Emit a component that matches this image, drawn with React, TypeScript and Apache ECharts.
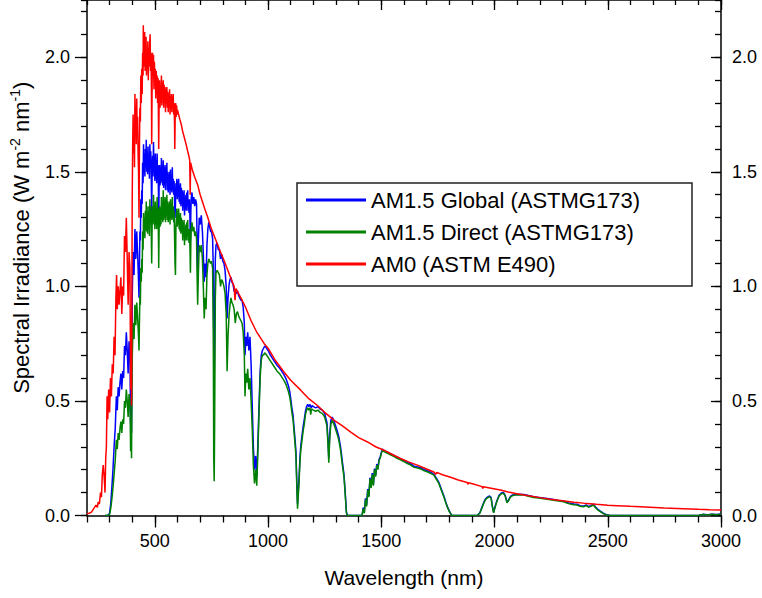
import React, { useEffect, useRef } from "react";
import * as echarts from "echarts";

// ---------- data ----------
const seriesNames = ["AM1.5 Global (ASTMG173)", "AM1.5 Direct (ASTMG173)", "AM0 (ASTM E490)"];
const seriesColors = ["#0000ff", "#008000", "#ff0000"];

const xMajorTicks = [500, 1000, 1500, 2000, 2500, 3000];
const yMajorTicks = [0, 0.5, 1, 1.5, 2];

// AM0 (ASTM E490): [wavelength nm, W m^-2 nm^-1]
const amoData: number[][] = [
  [200,0.008],[210,0.01],[220,0.015],[230,0.03],[240,0.045],[246,0.035],[250,0.06],[255,0.05],[260,0.10],[264,0.08],
  [268,0.18],[272,0.22],[276,0.17],[280,0.10],[283,0.25],[286,0.30],[289,0.52],[292,0.42],[296,0.55],[300,0.45],
  [304,0.60],[308,0.52],[312,0.66],[316,0.62],[320,0.78],[324,0.70],[328,0.95],[331,1.05],[334,0.90],[338,1.00],
  [342,0.92],[346,0.98],[350,1.04],[354,0.88],[358,1.00],[362,0.96],[366,1.22],[370,1.15],[374,1.30],[378,1.12],
  [382,0.92],[386,1.15],[390,1.08],[393,0.55],[395,0.85],[397,0.48],
  [400,1.38],[402,1.62],[404,1.75],[406,1.58],[408,1.66],[410,1.52],[412,1.84],[414,1.70],[416,1.76],[418,1.62],
  [420,1.82],[422,1.66],[424,1.74],[426,1.58],[428,1.50],[430,1.30],[432,1.62],[434,1.78],[436,1.72],[438,1.92],
  [440,1.80],[442,1.95],[444,1.84],[446,2.02],[448,1.92],[449,2.14],[451,1.96],[453,2.08],[455,2.11],[457,1.94],
  [459,2.06],[461,2.09],[463,1.92],[465,2.02],[467,1.95],[469,2.07],[471,1.90],[473,2.04],[475,1.96],[477,2.06],
  [479,2.10],[481,1.94],[483,2.02],[485,1.84],[486,1.62],[488,1.90],[490,2.02],[492,1.92],[494,2.01],[496,1.86],
  [498,1.98],[500,1.88],[502,1.95],[504,1.82],[506,1.94],[508,1.84],[510,1.92],[512,1.80],[514,1.91],[516,1.72],
  [517,1.60],[519,1.84],[521,1.90],[523,1.78],[525,1.88],[527,1.80],[529,1.92],[531,1.79],[533,1.89],[535,1.82],
  [537,1.90],[539,1.78],[541,1.88],[543,1.80],[545,1.87],[547,1.76],[549,1.86],[551,1.80],[553,1.87],[555,1.78],
  [557,1.85],[559,1.76],[561,1.84],[563,1.78],[565,1.86],[567,1.75],[569,1.83],[571,1.77],[573,1.84],[575,1.76],
  [577,1.83],[579,1.78],[581,1.84],[583,1.75],[585,1.80],[587,1.70],[588,1.60],[590,1.76],[592,1.80],[594,1.74],
  [596,1.79],[598,1.75],[600,1.77],[605,1.75],[610,1.73],[616,1.71],[622,1.68],[630,1.65],[638,1.62],[645,1.59],
  [650,1.57],[654,1.55],[656,1.40],[658,1.54],[665,1.51],[675,1.48],[690,1.44],[700,1.40],[720,1.34],[734,1.30],
  [750,1.25],[770,1.20],[790,1.15],[807,1.11],[830,1.05],[850,1.00],[854,0.94],[858,0.99],[880,0.95],[900,0.91],
  [925,0.85],[950,0.80],[983,0.75],[1000,0.73],[1030,0.68],[1071,0.625],[1100,0.59],[1145,0.546],[1180,0.51],
  [1218,0.48],[1250,0.45],[1292,0.415],[1330,0.39],[1365,0.364],[1400,0.34],[1439,0.321],[1475,0.30],[1512,0.285],
  [1550,0.265],[1585,0.249],[1620,0.234],[1659,0.22],[1700,0.203],[1732,0.19],[1740,0.18],[1745,0.188],[1770,0.178],
  [1806,0.167],[1840,0.155],[1879,0.144],[1882,0.136],[1885,0.143],[1910,0.136],[1945,0.126],[1948,0.118],[1951,0.125],
  [1990,0.118],[2026,0.111],[2060,0.103],[2099,0.095],[2150,0.086],[2200,0.078],[2246,0.071],[2300,0.064],[2350,0.058],
  [2393,0.054],[2450,0.049],[2500,0.045],[2540,0.043],[2600,0.04],[2687,0.036],[2750,0.033],[2834,0.03],[2900,0.027],
  [2950,0.025],[3000,0.024]
];

// AM1.5 Global (ASTM G173)
const globalData: number[][] = [
  [280,0],[290,0],[295,0.002],[300,0.01],[305,0.05],[310,0.12],[315,0.20],[320,0.30],[325,0.38],[330,0.52],
  [334,0.46],[338,0.56],[342,0.52],[346,0.58],[350,0.62],[354,0.55],[358,0.63],[362,0.60],[366,0.74],[370,0.70],
  [374,0.80],[378,0.72],[382,0.62],[386,0.76],[390,0.72],[393,0.40],[395,0.58],[397,0.36],[400,0.95],[404,1.15],
  [408,1.05],[412,1.25],[416,1.12],[420,1.24],[424,1.14],[428,1.02],
  [430,0.95],[432,1.10],[434,1.24],[436,1.20],[438,1.38],[440,1.30],[442,1.42],[444,1.36],[446,1.54],[448,1.45],
  [450,1.62],[452,1.50],[454,1.58],[456,1.48],[458,1.60],[460,1.52],[462,1.64],[464,1.50],[466,1.58],[468,1.49],
  [470,1.61],[472,1.50],[474,1.57],[476,1.47],[478,1.62],[480,1.52],[482,1.59],[484,1.48],[486,1.32],[488,1.50],
  [490,1.57],[492,1.48],[494,1.63],[496,1.50],[498,1.56],[500,1.46],[502,1.58],[504,1.47],[506,1.55],[508,1.45],
  [510,1.58],[512,1.47],[514,1.53],[516,1.40],[517,1.28],[519,1.46],[521,1.53],[523,1.44],[525,1.52],[527,1.45],
  [529,1.56],[531,1.46],[533,1.53],[535,1.44],[537,1.55],[539,1.43],[541,1.52],[543,1.44],[545,1.53],[547,1.42],
  [549,1.52],[551,1.45],[553,1.54],[555,1.42],[557,1.50],[559,1.41],[561,1.49],[563,1.42],[565,1.50],[567,1.40],
  [569,1.51],[571,1.42],[573,1.48],[575,1.41],[577,1.52],[579,1.42],[581,1.47],[583,1.40],[585,1.46],[587,1.38],
  [589,1.30],[591,1.36],[593,1.45],[595,1.40],[597,1.47],[599,1.38],[601,1.46],[603,1.39],[605,1.47],[607,1.37],
  [609,1.44],[611,1.36],[613,1.45],[615,1.35],[617,1.43],[619,1.36],[621,1.42],[623,1.33],[625,1.41],[627,1.35],
  [629,1.42],[631,1.31],[633,1.39],[635,1.34],[637,1.40],[639,1.33],[641,1.41],[643,1.35],[645,1.42],[647,1.33],
  [649,1.38],[651,1.32],[653,1.38],[655,1.29],[657,1.20],[659,1.33],[661,1.39],[664,1.41],[668,1.36],[672,1.39],
  [676,1.35],[680,1.38],[684,1.36],[687,1.18],[689,1.06],[692,1.20],[696,1.30],[700,1.27],[705,1.31],[710,1.24],
  [714,1.14],[718,1.02],[722,1.10],[726,1.04],[730,1.18],[734,1.25],[738,1.28],[742,1.26],[746,1.24],[750,1.24],
  [755,1.21],[758,1.08],[760,0.72],[762,0.58],[764,0.80],[767,1.12],[770,1.18],[775,1.19],[780,1.16],[785,1.16],
  [790,1.12],[795,1.14],[800,1.11],[805,1.10],[810,1.07],[815,1.00],[819,0.86],[823,0.95],[828,1.01],[832,1.03],
  [836,1.04],[840,1.02],[845,1.01],[850,0.98],[855,0.97],[860,0.97],[865,0.98],[870,0.96],[875,0.95],[880,0.94],
  [885,0.94],[890,0.91],[895,0.84],[898,0.70],[902,0.78],[906,0.74],[910,0.80],[915,0.72],[920,0.78],[925,0.66],
  [930,0.48],[935,0.30],[940,0.20],[945,0.26],[950,0.17],[955,0.32],[960,0.48],[965,0.63],[970,0.70],[975,0.72],
  [980,0.73],[985,0.74],[990,0.735],[1000,0.72],[1010,0.70],[1020,0.685],[1030,0.67],[1040,0.655],[1050,0.645],
  [1060,0.63],[1070,0.615],[1080,0.595],[1090,0.565],[1095,0.545],[1100,0.51],[1105,0.47],[1110,0.44],[1115,0.38],
  [1120,0.32],[1123,0.28],[1127,0.14],[1130,0.05],[1133,0.10],[1137,0.17],[1141,0.26],[1145,0.31],[1150,0.35],
  [1155,0.39],[1160,0.42],[1165,0.455],[1170,0.475],[1175,0.485],[1180,0.475],[1185,0.485],[1190,0.47],[1195,0.48],
  [1200,0.475],[1210,0.47],[1220,0.475],[1230,0.465],[1240,0.46],[1250,0.445],[1255,0.425],[1260,0.405],[1265,0.32],
  [1268,0.25],[1272,0.35],[1277,0.415],[1283,0.43],[1290,0.415],[1297,0.395],[1305,0.37],[1312,0.345],[1320,0.30],
  [1328,0.235],[1335,0.18],[1340,0.11],[1346,0.015],[1350,0],[1380,0],[1415,0],[1420,0.035],[1425,0.015],[1430,0.075],
  [1435,0.045],[1440,0.115],[1445,0.085],[1450,0.165],[1455,0.125],[1460,0.185],[1465,0.135],[1470,0.205],[1475,0.175],
  [1480,0.225],[1485,0.205],[1490,0.245],[1495,0.255],[1500,0.275],[1505,0.29],[1510,0.285],[1520,0.28],[1530,0.275],
  [1540,0.27],[1550,0.265],[1560,0.26],[1570,0.255],[1580,0.25],[1590,0.245],[1600,0.24],[1615,0.232],[1630,0.225],
  [1645,0.215],[1660,0.212],[1675,0.208],[1690,0.2],[1705,0.195],[1720,0.188],[1732,0.18],[1745,0.16],[1754,0.145],
  [1765,0.115],[1776,0.086],[1785,0.058],[1791,0.04],[1800,0.02],[1806,0.009],[1812,0],[1923,0],[1935,0.012],
  [1945,0.038],[1952,0.056],[1960,0.073],[1970,0.081],[1978,0.085],[1985,0.078],[1990,0.043],[1996,0.014],[2002,0.038],
  [2010,0.063],[2020,0.088],[2030,0.098],[2040,0.1],[2047,0.088],[2055,0.058],[2062,0.068],[2070,0.083],[2080,0.09],
  [2092,0.092],[2105,0.093],[2129,0.092],[2150,0.087],[2173,0.082],[2195,0.079],[2217,0.076],[2240,0.073],[2261,0.07],
  [2283,0.066],[2305,0.063],[2320,0.057],[2334,0.053],[2350,0.05],[2364,0.049],[2378,0.043],[2393,0.041],[2405,0.046],
  [2415,0.039],[2425,0.043],[2437,0.049],[2445,0.038],[2455,0.028],[2467,0.019],[2480,0.01],[2496,0.003],[2510,0],
  [2900,0],[2920,0.005],[2940,0.003],[2960,0.006],[2980,0.004],[3000,0.007]
];

// AM1.5 Direct (ASTM G173)
const directData: number[][] = [
  [280,0],[290,0],[295,0.001],[300,0.005],[305,0.03],[310,0.07],[315,0.12],[320,0.18],[325,0.24],[330,0.33],
  [334,0.29],[338,0.36],[342,0.33],[346,0.38],[350,0.41],[354,0.36],[358,0.42],[362,0.40],[366,0.50],[370,0.47],
  [374,0.55],[378,0.50],[382,0.43],[386,0.53],[390,0.50],[393,0.28],[395,0.41],[397,0.25],[400,0.68],[404,0.84],
  [408,0.77],[412,0.92],[416,0.83],[420,0.93],[424,0.86],[428,0.78],
  [430,0.72],[432,0.85],[434,0.96],[436,0.92],[438,1.08],[440,1.02],[442,1.12],[444,1.06],[446,1.24],[448,1.16],
  [450,1.32],[452,1.22],[454,1.30],[456,1.21],[458,1.33],[460,1.25],[462,1.37],[464,1.24],[466,1.31],[468,1.23],
  [470,1.35],[472,1.25],[474,1.31],[476,1.22],[478,1.38],[480,1.28],[482,1.35],[484,1.25],[486,1.10],[488,1.28],
  [490,1.35],[492,1.27],[494,1.40],[496,1.28],[498,1.34],[500,1.25],[502,1.37],[504,1.27],[506,1.34],[508,1.25],
  [510,1.39],[512,1.28],[514,1.34],[516,1.20],[517,1.08],[519,1.27],[521,1.35],[523,1.26],[525,1.34],[527,1.27],
  [529,1.39],[531,1.29],[533,1.36],[535,1.28],[537,1.42],[539,1.29],[541,1.37],[543,1.30],[545,1.39],[547,1.28],
  [549,1.38],[551,1.31],[553,1.40],[555,1.29],[557,1.37],[559,1.28],[561,1.36],[563,1.29],[565,1.37],[567,1.27],
  [569,1.38],[571,1.30],[573,1.36],[575,1.29],[577,1.39],[579,1.30],[581,1.35],[583,1.28],[585,1.33],[587,1.22],
  [589,1.10],[591,1.05],[593,1.26],[595,1.30],[597,1.34],[599,1.26],[601,1.33],[603,1.27],[605,1.34],[607,1.25],
  [609,1.31],[611,1.24],[613,1.32],[615,1.23],[617,1.30],[619,1.24],[621,1.29],[623,1.20],[625,1.28],[627,1.22],
  [629,1.29],[631,1.18],[633,1.26],[635,1.21],[637,1.27],[639,1.20],[641,1.28],[643,1.22],[645,1.29],[647,1.20],
  [649,1.25],[651,1.19],[653,1.25],[655,1.16],[657,1.06],[659,1.20],[661,1.26],[664,1.28],[668,1.24],[672,1.26],
  [676,1.22],[680,1.24],[684,1.21],[687,1.02],[689,0.92],[692,1.05],[696,1.18],[700,1.15],[705,1.18],[710,1.12],
  [714,1.00],[718,0.86],[722,0.95],[726,0.90],[730,1.05],[734,1.10],[738,1.12],[742,1.11],[746,1.10],[750,1.11],
  [755,1.08],[758,0.80],[760,0.25],[762,0.15],[764,0.40],[767,0.95],[770,1.06],[775,1.07],[780,1.06],[785,1.05],
  [790,1.00],[795,1.03],[800,1.02],[805,1.00],[810,0.97],[815,0.88],[819,0.63],[823,0.78],[828,0.88],[832,0.92],
  [836,0.95],[840,0.93],[845,0.92],[850,0.90],[855,0.84],[860,0.88],[865,0.89],[870,0.87],[875,0.86],[880,0.85],
  [885,0.84],[890,0.80],[895,0.70],[898,0.52],[902,0.62],[906,0.58],[910,0.64],[915,0.55],[920,0.60],[925,0.50],
  [930,0.38],[935,0.22],[940,0.14],[945,0.20],[950,0.13],[955,0.28],[960,0.45],[965,0.60],[970,0.68],[975,0.70],
  [980,0.70],[985,0.71],[990,0.705],[1000,0.69],[1010,0.675],[1020,0.66],[1030,0.645],[1040,0.63],[1050,0.62],
  [1060,0.605],[1070,0.59],[1080,0.57],[1090,0.54],[1095,0.52],[1100,0.49],[1105,0.45],[1110,0.42],[1115,0.36],
  [1120,0.30],[1123,0.26],[1127,0.12],[1130,0.03],[1133,0.08],[1137,0.15],[1141,0.24],[1145,0.29],[1150,0.33],
  [1155,0.37],[1160,0.40],[1165,0.44],[1170,0.46],[1175,0.47],[1180,0.46],[1185,0.47],[1188,0.44],[1192,0.465],
  [1200,0.46],[1210,0.455],[1220,0.46],[1230,0.45],[1240,0.445],[1250,0.43],[1255,0.41],[1260,0.39],[1265,0.30],
  [1268,0.23],[1272,0.33],[1277,0.40],[1283,0.415],[1290,0.40],[1297,0.38],[1305,0.355],[1312,0.33],[1320,0.285],
  [1328,0.22],[1335,0.17],[1340,0.10],[1346,0.01],[1350,0],[1380,0],[1415,0],[1420,0.03],[1425,0.01],[1430,0.07],
  [1435,0.04],[1440,0.11],[1445,0.08],[1450,0.16],[1455,0.12],[1460,0.18],[1465,0.13],[1470,0.20],[1475,0.17],
  [1480,0.22],[1485,0.20],[1490,0.24],[1495,0.25],[1500,0.27],[1505,0.285],[1510,0.28],[1520,0.275],[1530,0.27],
  [1540,0.265],[1550,0.26],[1560,0.255],[1570,0.25],[1580,0.245],[1590,0.24],[1600,0.235],[1615,0.227],[1630,0.22],
  [1645,0.21],[1660,0.207],[1675,0.203],[1690,0.195],[1705,0.19],[1720,0.183],[1732,0.176],[1745,0.155],[1754,0.14],
  [1765,0.11],[1776,0.082],[1785,0.055],[1791,0.038],[1800,0.018],[1806,0.008],[1812,0],[1923,0],[1935,0.01],
  [1945,0.035],[1952,0.053],[1960,0.07],[1970,0.078],[1978,0.082],[1985,0.075],[1990,0.04],[1996,0.012],[2002,0.035],
  [2010,0.06],[2020,0.085],[2030,0.095],[2040,0.097],[2047,0.085],[2055,0.055],[2062,0.065],[2070,0.08],[2080,0.087],
  [2092,0.089],[2105,0.09],[2129,0.089],[2150,0.084],[2173,0.079],[2195,0.076],[2217,0.073],[2240,0.07],[2261,0.067],
  [2283,0.063],[2305,0.06],[2320,0.054],[2334,0.05],[2350,0.047],[2364,0.046],[2378,0.04],[2393,0.038],[2405,0.043],
  [2415,0.036],[2425,0.04],[2437,0.046],[2445,0.035],[2455,0.025],[2467,0.017],[2480,0.008],[2496,0.002],[2510,0],
  [2900,0],[2920,0.004],[2940,0.002],[2960,0.005],[2980,0.003],[3000,0.006]
];

const FONT = "'Liberation Sans', Arial, Helvetica, sans-serif";

export default function App() {
  const ref = useRef<HTMLDivElement>(null);

  useEffect(() => {
    if (!ref.current) return;
    const chart = echarts.init(ref.current, null, { renderer: "svg" });
    const black = "#000";
    const X_MIN = 200, X_MAX = 3000, Y_MIN = 0, Y_MAX = 2.25;

    const xBase = (extra: any) => ({
      type: "value",
      min: X_MIN,
      max: X_MAX,
      splitLine: { show: false },
      axisLine: { show: false, onZero: false, lineStyle: { color: black, width: 1.5 } },
      axisLabel: { show: false },
      ...extra,
    });
    const yBase = (extra: any) => ({
      type: "value",
      min: Y_MIN,
      max: Y_MAX,
      splitLine: { show: false },
      axisLine: { show: false, onZero: false, lineStyle: { color: black, width: 1.5 } },
      axisLabel: { show: false },
      ...extra,
    });

    const tickStyle = { color: black, width: 1.3 };

    chart.setOption({
      animation: false,
      backgroundColor: "#fff",
      textStyle: { fontFamily: FONT },
      grid: { left: 85.5, right: 41, top: -2, bottom: 82.5, containLabel: false },
      legend: {
        data: seriesNames,
        orient: "vertical",
        left: 297,
        top: 183,
        icon: "rect",
        itemWidth: 60,
        itemHeight: 3,
        itemGap: 8,
        padding: [5, 52, 10, 9],
        backgroundColor: "#fff",
        borderColor: "#222",
        borderWidth: 1.5,
        borderRadius: 0,
        textStyle: { fontSize: 22, color: black, fontFamily: FONT, lineHeight: 24 },
      },
      xAxis: [
        xBase({
          position: "bottom",
          interval: 100,
          axisLine: { show: true, onZero: false, lineStyle: { color: black, width: 1.5 } },
          axisTick: { show: true, inside: false, length: 7, lineStyle: tickStyle },
          axisLabel: {
            show: true,
            customValues: xMajorTicks,
            formatter: (v: number) => String(Math.round(v)),
            margin: 16,
            fontSize: 18,
            color: black,
            fontFamily: FONT,
          },
          name: "Wavelength (nm)",
          nameLocation: "middle",
          nameGap: 51,
          nameTextStyle: { fontSize: 21, color: black, fontFamily: FONT },
        }),
        xBase({
          position: "bottom",
          axisTick: { show: true, inside: false, length: 12, customValues: xMajorTicks, lineStyle: tickStyle },
        }),
        xBase({
          position: "top",
          interval: 100,
          axisLine: { show: true, onZero: false, lineStyle: { color: black, width: 1.5 } },
          axisTick: { show: true, inside: true, length: 5, lineStyle: tickStyle },
        }),
        xBase({
          position: "top",
          axisTick: { show: true, inside: true, length: 10, customValues: xMajorTicks, lineStyle: tickStyle },
        }),
      ],
      yAxis: [
        yBase({
          position: "left",
          interval: 0.1,
          axisLine: { show: true, onZero: false, lineStyle: { color: black, width: 1.5 } },
          axisTick: { show: true, inside: false, length: 6, lineStyle: tickStyle },
          axisLabel: {
            show: true,
            customValues: yMajorTicks,
            formatter: (v: number) => v.toFixed(1),
            margin: 17,
            fontSize: 18,
            color: black,
            fontFamily: FONT,
          },
          name: "Spectral Irradiance (W m{sup|-2} nm{sup|-1})",
          nameLocation: "middle",
          nameRotate: 90,
          nameGap: 48,
          nameTextStyle: {
            fontSize: 22,
            color: black,
            fontFamily: FONT,
            lineHeight: 26,
            padding: [0, 0, 0, 40],
            rich: {
              sup: { fontSize: 14, lineHeight: 8, verticalAlign: "top", color: black, fontFamily: FONT },
            },
          },
        }),
        yBase({
          position: "left",
          axisTick: { show: true, inside: false, length: 12, customValues: yMajorTicks, lineStyle: tickStyle },
        }),
        yBase({
          position: "right",
          interval: 0.1,
          axisLine: { show: true, onZero: false, lineStyle: { color: black, width: 1.5 } },
          axisTick: { show: true, inside: true, length: 6, lineStyle: tickStyle },
          axisLabel: {
            show: true,
            customValues: yMajorTicks,
            formatter: (v: number) => v.toFixed(1),
            margin: 11,
            fontSize: 18,
            color: black,
            fontFamily: FONT,
          },
        }),
        yBase({
          position: "right",
          axisTick: { show: true, inside: true, length: 10, customValues: yMajorTicks, lineStyle: tickStyle },
        }),
      ],
      series: [globalData, directData, amoData].map((d, i) => ({
        name: seriesNames[i],
        type: "line",
        xAxisIndex: 0,
        yAxisIndex: 0,
        data: d,
        showSymbol: false,
        symbol: "none",
        clip: true,
        color: seriesColors[i],
        lineStyle: { color: seriesColors[i], width: 1.5 },
        z: 2 + i,
      })),
    });

    return () => chart.dispose();
  }, []);

  return (
    <div
      ref={ref}
      style={{ position: "absolute", left: 0, top: 0, width: 762, height: 598 }}
    />
  );
}
